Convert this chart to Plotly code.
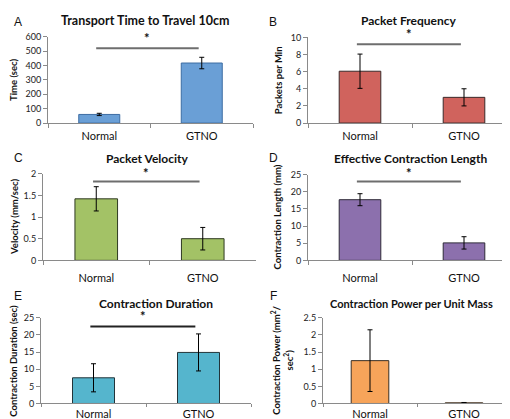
import plotly.graph_objects as go

categories = ["Normal", "GTNO"]

titles = ["Transport Time to Travel 10cm", "Packet Frequency", "Packet Velocity",
          "Effective Contraction Length", "Contraction Duration", "Contraction Power per Unit Mass"]
letters = ["A", "B", "C", "D", "E", "F"]
ytitles = ["Time (sec)", "Packets per Min", "Velocity (mm/sec)", "Contraction Length (mm)",
           "Contraction Duration (sec)", "Contraction Power (mm<sup>2</sup>/<br>sec<sup>2</sup>)"]

time_vals = [60, 418]
time_err = [8, 40]
freq_vals = [6.05, 3.0]
freq_err = [2.0, 1.0]
vel_vals = [1.42, 0.50]
vel_err = [0.28, 0.26]
len_vals = [17.7, 5.1]
len_err = [1.75, 1.8]
dur_vals = [7.5, 14.9]
dur_err = [4.1, 5.4]
pow_vals = [1.25, 0.02]
pow_err = [0.9, 0.01]

yranges = [[0, 600], [0, 10], [0, 2], [0, 25], [0, 25], [0, 2.5]]
ydticks = [100, 2, 0.5, 5, 5, 0.5]
sig_levels = [520, 9.2, 1.82, 23, 22.5, None]
star_levels = [590, 10.4, 2.02, 25.6, 25.4, None]

colors = ["#6a9fd6", "#d0635d", "#a3c266", "#8c70ad", "#55b5cd", "#f7a45a"]
lines = ["#3d6da3", "#3a2a2a", "#2f3a22", "#2e2a38", "#22343a", "#3a2e22"]

vals = [time_vals, freq_vals, vel_vals, len_vals, dur_vals, pow_vals]
errs = [time_err, freq_err, vel_err, len_err, dur_err, pow_err]

W, H = 510, 419
# pixel boxes: x0, x1, ytop, ybottom
boxes = [(40, 245, 23.5, 112), (300, 508, 24, 112), (35, 248, 164, 253),
         (300, 508, 165, 253), (33, 243, 312, 400), (315, 503, 312, 400)]
title_pos = [(137, 7), (401, 7), (139, 148), (402, 148), (148, 297), (403, 297)]
title_size = [12.5, 12, 12, 12, 12, 11]
letter_pos = [(4, 8), (259, 8), (4, 148), (259, 148), (4, 290), (260, 290)]
ytitle_x = [6, 270, 6, 270, 6, 274]
standoffs = [3, 3, 7, 7, 0, 0]

FONT = "Lato"
fig = go.Figure()
annotations = []
shapes = []
layout = {}
for i in range(6):
    n = "" if i == 0 else str(i + 1)
    x0, x1, yt, yb = boxes[i]
    fig.add_trace(go.Bar(
        x=categories, y=vals[i], xaxis="x" + n, yaxis="y" + n,
        width=0.4,
        marker=dict(color=colors[i], line=dict(color=lines[i], width=1)),
        error_y=dict(type="data", array=errs[i], color="#000000", thickness=1, width=2.5),
        showlegend=False,
    ))
    layout["xaxis" + n] = dict(
        domain=[x0 / W, x1 / W], anchor="y" + n, type="category",
        showline=True, linecolor="#8a8a8a", linewidth=1,
        ticks="outside", tickson="boundaries", ticklen=4 if i < 4 else 3, tickcolor="#8a8a8a",
        tickfont=dict(family=FONT, size=11, color="#111111"),
        ticklabelstandoff=standoffs[i],
        showgrid=False, zeroline=False, range=[-0.5, 1.5],
    )
    layout["yaxis" + n] = dict(
        domain=[1 - yb / H, 1 - yt / H], anchor="x" + n,
        range=yranges[i], dtick=ydticks[i], tick0=0,
        showline=True, linecolor="#8a8a8a", linewidth=1,
        ticks="outside", ticklen=4, tickcolor="#8a8a8a",
        tickfont=dict(family=FONT, size=9, color="#222222"),
        showgrid=False, zeroline=False,
    )
    tx, ty = title_pos[i]
    annotations.append(dict(text="<b>" + titles[i] + "</b>", x=tx / W, y=1 - ty / H,
                            xref="paper", yref="paper", showarrow=False,
                            xanchor="center", yanchor="middle",
                            font=dict(family=FONT, size=title_size[i], color="#111111")))
    lx, ly = letter_pos[i]
    annotations.append(dict(text=letters[i], x=lx / W, y=1 - ly / H,
                            xref="paper", yref="paper", showarrow=False,
                            xanchor="left", yanchor="middle",
                            font=dict(family="Liberation Sans", size=12, color="#111111")))
    annotations.append(dict(text="<b>" + ytitles[i] + "</b>", x=ytitle_x[i] / W,
                            y=1 - ((yt + yb) / 2) / H, xref="paper", yref="paper",
                            showarrow=False, textangle=-90, xanchor="center", yanchor="middle",
                            font=dict(family=FONT, size=9.5, color="#111111")))
    if sig_levels[i] is not None:
        shapes.append(dict(type="line", xref="x" + n, yref="y" + n,
                           x0=-0.03, x1=0.97, y0=sig_levels[i], y1=sig_levels[i],
                           line=dict(color="#6e6e6e" if i < 4 else "#222222", width=2)))
        # star: convert data value to paper position (may lie above the axis range)
        frac = star_levels[i] / yranges[i][1]
        star_px = yb - frac * (yb - yt)
        star_x = x0 + (0.47 + 0.5) / 2.0 * (x1 - x0)
        annotations.append(dict(text="<b>*</b>", x=star_x / W, y=1 - star_px / H,
                                xref="paper", yref="paper", showarrow=False,
                                xanchor="center", yanchor="middle",
                                font=dict(family=FONT, size=13, color="#111111")))

fig.update_layout(
    width=W, height=H, margin=dict(l=0, r=0, t=0, b=0),
    paper_bgcolor="white", plot_bgcolor="white",
    annotations=annotations, shapes=shapes, bargap=0.6,
    **layout,
)
fig.write_html("out.html")
